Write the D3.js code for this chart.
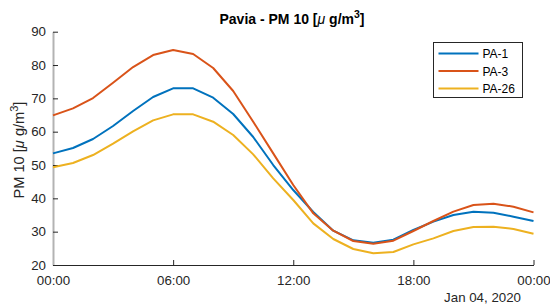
<!DOCTYPE html>
<html>
<head>
<meta charset="utf-8">
<script src="https://cdn.jsdelivr.net/npm/d3@7"></script>
<style>
  body { margin: 0; background: #fff; }
  svg { display: block; font-family: "Liberation Sans", Arial, Helvetica, sans-serif; }
  .tick text { fill: #262626; font-size: 13.3px; }
</style>
</head>
<body>
<div id="chart"></div>
<script>
// hourly samples, Jan 04 2020 00:00 -> Jan 05 00:00
const hours = d3.range(25);
const pa1 = [53.5, 55.1, 57.8, 61.7, 66.2, 70.4, 73.0, 73.0, 70.2, 65.3, 58.4, 50.0, 42.5,
  35.9, 30.3, 27.4, 26.7, 27.6, 30.5, 33.0, 35.0, 36.0, 35.7, 34.5, 33.2];
const pa3 = [64.9, 67.0, 70.1, 74.7, 79.4, 83.0, 84.5, 83.3, 79.1, 72.2, 63.0, 53.5, 44.0,
  35.5, 30.3, 27.2, 26.4, 27.3, 30.2, 33.2, 36.0, 38.0, 38.4, 37.5, 35.8];
const pa26 = [49.3, 50.6, 53.0, 56.4, 60.1, 63.4, 65.2, 65.2, 63.0, 59.0, 53.2, 46.0, 39.5,
  32.5, 27.8, 24.8, 23.5, 23.9, 26.2, 28.0, 30.2, 31.4, 31.5, 30.8, 29.4];
const seriesNames = ["PA-1", "PA-3", "PA-26"];
const seriesColors = ["#0072BD", "#D95319", "#EDB120"];
const yTicks = [20, 30, 40, 50, 60, 70, 80, 90];
const xTickHours = [0, 6, 12, 18, 24];

const W = 550, H = 306;
const margin = { left: 53, right: 16.5, top: 31.7, bottom: 41 };
const start = new Date(2020, 0, 4, 0, 0);
const toDate = h => new Date(start.getTime() + h * 3600 * 1000);

const svg = d3.select("#chart").append("svg").attr("width", W).attr("height", H);

const x = d3.scaleTime()
  .domain([toDate(0), toDate(24)])
  .range([margin.left, W - margin.right]);
const y = d3.scaleLinear().domain([20, 90]).range([H - margin.bottom, margin.top]);

// x axis (ticks point inward)
const xAxis = svg.append("g")
  .attr("transform", `translate(0,${H - margin.bottom})`)
  .call(d3.axisBottom(x)
    .tickValues(xTickHours.map(toDate))
    .tickFormat(d3.timeFormat("%H:%M"))
    .tickSizeInner(-5).tickSizeOuter(0).tickPadding(11));
xAxis.select(".domain").attr("stroke", "#262626");
xAxis.selectAll(".tick line").attr("stroke", "#262626");

// y axis
const yAxis = svg.append("g")
  .attr("transform", `translate(${margin.left},0)`)
  .call(d3.axisLeft(y).tickValues(yTicks).tickSizeInner(-5).tickSizeOuter(0).tickPadding(7));
yAxis.select(".domain").attr("stroke", "#b3b3b3").attr("stroke-width", 2);
yAxis.selectAll(".tick line").attr("stroke", "#262626");

// lines
const line = d3.line().x((d, i) => x(toDate(hours[i]))).y(d => y(d));
[pa1, pa3, pa26].forEach((s, i) => {
  svg.append("path")
    .datum(s)
    .attr("fill", "none")
    .attr("stroke", seriesColors[i])
    .attr("stroke-width", 2)
    .attr("stroke-linejoin", "round")
    .attr("d", line);
});

// date label under x axis
svg.append("text")
  .attr("x", 521).attr("y", 302)
  .attr("text-anchor", "end")
  .attr("fill", "#262626")
  .style("font-size", "13.3px")
  .text("Jan 04, 2020");

// title
const title = svg.append("text")
  .attr("x", 292).attr("y", 24)
  .attr("text-anchor", "middle")
  .attr("fill", "#000")
  .style("font-size", "14px")
  .style("font-weight", "bold");
title.append("tspan").text("Pavia - PM 10 [");
title.append("tspan").style("font-style", "italic").style("font-weight", "normal").text("\u03bc");
title.append("tspan").text(" g/m");
title.append("tspan").attr("dy", -6).style("font-size", "10.5px").text("3");
title.append("tspan").attr("dy", 6).text("]");

// y label
const ylab = svg.append("text")
  .attr("transform", "translate(24,150) rotate(-90)")
  .attr("text-anchor", "middle")
  .attr("fill", "#262626")
  .style("font-size", "14.6px");
ylab.append("tspan").text("PM 10 [");
ylab.append("tspan").style("font-style", "italic").text("\u03bc");
ylab.append("tspan").text(" g/m");
ylab.append("tspan").attr("dy", -6).style("font-size", "11px").text("3");
ylab.append("tspan").attr("dy", 6).text("]");

// legend
const legend = svg.append("g").attr("transform", "translate(433.5,42.5)");
legend.append("rect")
  .attr("width", 89).attr("height", 55)
  .attr("fill", "#fff").attr("stroke", "#262626").attr("stroke-width", 1);
seriesNames.forEach((name, i) => {
  const ly = 11 + i * 17.5;
  legend.append("line")
    .attr("x1", 5).attr("x2", 45).attr("y1", ly).attr("y2", ly)
    .attr("stroke", seriesColors[i]).attr("stroke-width", 2);
  legend.append("text")
    .attr("x", 49).attr("y", ly + 4.5)
    .attr("fill", "#000")
    .style("font-size", "12px")
    .text(name);
});
</script>
</body>
</html>
